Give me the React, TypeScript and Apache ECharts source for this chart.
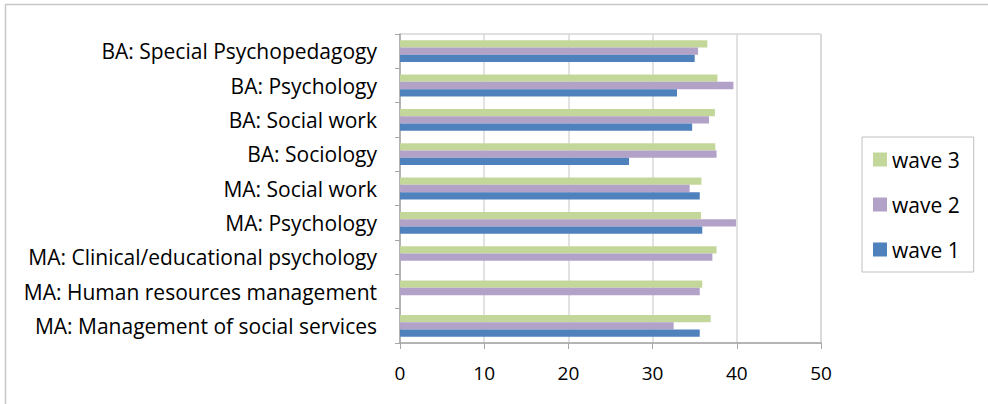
import React, { useEffect, useRef } from "react";
import * as echarts from "echarts";

const categories = [
  "MA: Management of social services",
  "MA: Human resources management",
  "MA: Clinical/educational psychology",
  "MA: Psychology",
  "MA: Social work",
  "BA: Sociology",
  "BA: Social work",
  "BA: Psychology",
  "BA: Special Psychopedagogy",
];

const wave1 = [35.6, null, null, 35.9, 35.6, 27.2, 34.7, 32.9, 35.0];
const wave2 = [32.5, 35.6, 37.1, 39.9, 34.4, 37.6, 36.7, 39.6, 35.4];
const wave3 = [36.9, 35.9, 37.6, 35.75, 35.8, 37.45, 37.4, 37.7, 36.5];

const xTicks = { min: 0, max: 50, interval: 10 };

const FONT = "'Open Sans', 'Noto Sans', sans-serif";

export default function App() {
  const ref = useRef<HTMLDivElement>(null);
  useEffect(() => {
    if (!ref.current) return;
    const chart = echarts.init(ref.current, null, { renderer: "svg" });
    const barW = 7.3;
    chart.setOption({
      animation: false,
      backgroundColor: "#ffffff",
      textStyle: { fontFamily: FONT },
      graphic: [
        {
          type: "rect",
          shape: { x: 5.5, y: 4.5, width: 1000, height: 500 },
          style: { fill: "none", stroke: "#c8c8c8", lineWidth: 1.5 },
          silent: true,
        },
      ],
      grid: { left: 400, right: 167, top: 34, bottom: 61, show: true, borderColor: "#c0c0c0", borderWidth: 1 },
      legend: {
        orient: "vertical",
        left: 862,
        top: 137,
        width: 111,
        data: ["wave 3", "wave 2", "wave 1"],
        icon: "rect",
        itemWidth: 14,
        itemHeight: 14,
        itemGap: 24,
        padding: [12, 14, 12, 11],
        borderColor: "#c0c0c0",
        borderWidth: 1,
        textStyle: { fontSize: 21, color: "#000", fontFamily: FONT },
      },
      xAxis: {
        type: "value",
        min: xTicks.min,
        max: xTicks.max,
        interval: xTicks.interval,
        axisLine: { show: true, lineStyle: { color: "#a6a6a6", width: 1.5 } },
        axisTick: { show: true, length: 6, lineStyle: { color: "#a6a6a6" } },
        splitLine: { show: true, lineStyle: { color: "#d9d9d9", width: 1.5 } },
        axisLabel: { fontSize: 19, color: "#000", margin: 20, fontFamily: FONT },
      },
      yAxis: {
        type: "category",
        data: categories,
        axisLine: { show: true, lineStyle: { color: "#a6a6a6", width: 1.5 } },
        axisTick: { show: true, length: 5, lineStyle: { color: "#a6a6a6" } },
        axisLabel: { fontSize: 21, color: "#000", margin: 23, fontFamily: FONT },
      },
      series: [
        { name: "wave 3", type: "bar", data: wave3, barWidth: barW, barGap: "0%", itemStyle: { color: "#C4D79B" } },
        { name: "wave 2", type: "bar", data: wave2, barWidth: barW, barGap: "0%", itemStyle: { color: "#B2A2C7" } },
        { name: "wave 1", type: "bar", data: wave1, barWidth: barW, barGap: "0%", itemStyle: { color: "#4F81BD" } },
      ],
    });
    return () => chart.dispose();
  }, []);
  return <div ref={ref} style={{ width: 988, height: 404, position: "absolute", left: 0, top: 0 }} />;
}
